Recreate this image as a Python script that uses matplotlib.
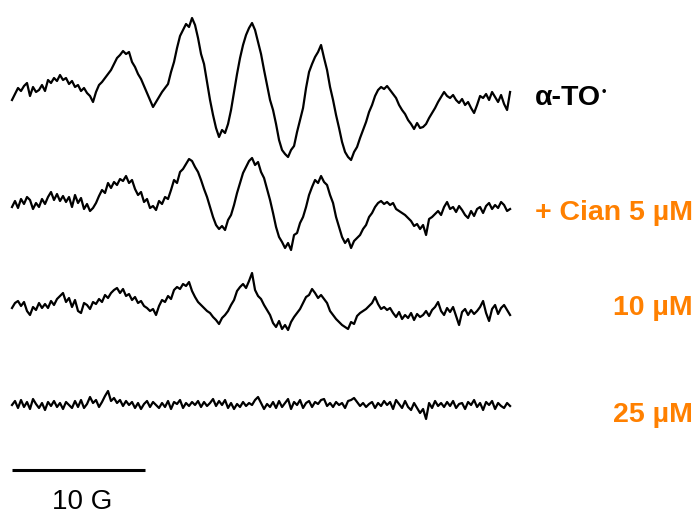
import numpy as np
import matplotlib
matplotlib.use("Agg")
import matplotlib.pyplot as plt

plt.rcParams['font.family'] = ['Liberation Sans', 'DejaVu Sans']

# EPR spectra of alpha-tocopheroxyl radical, field step between points (G)
field_step = 0.2256

# signal amplitudes (arb. units)
alpha_to = [0, 6, 12, 9, 14, 17, 4, 13, 8, 10, 15, 9, 20, 17, 22, 19, 25, 20, 22, 16,
            19, 13, 15, 9, 12, 7, 4, -2, 8, 15, 18, 22, 26, 30, 36, 42, 45, 49, 46, 48,
            38, 33, 26, 21, 14, 7, 0, -7, -2, 3, 8, 12, 16, 28, 38, 52, 64, 70, 76, 73,
            82, 75, 62, 46, 36, 18, 0, -15, -28, -37, -30, -33, -24, -10, 8, 26, 42, 55, 65, 72,
            77, 70, 58, 46, 30, 15, 0, -10, -24, -40, -50, -54, -57, -50, -46, -32, -20, -8, 12, 28,
            36, 43, 48, 55, 42, 30, 13, 0, -15, -28, -42, -52, -57, -60, -52, -47, -38, -30, -22, -12,
            -5, 4, 10, 13, 11, 14, 10, 6, 2, -5, -10, -14, -20, -24, -29, -23, -28, -27, -24, -18,
            -13, -8, -2, 3, 8, 4, 2, 5, 0, -3, 1, -5, -2, -8, -13, -5, 4, 2, 6, 0,
            8, 3, -2, 5, -4, -10, 8]

cian_5 = [-2, 4, -3, 6, 1, 8, 5, -4, 2, -2, 6, 1, 8, 13, 5, 11, 4, 9, 3, 8,
          -2, 10, 2, 7, -4, 1, -6, -3, 2, 9, 15, 12, 22, 17, 23, 20, 26, 24, 29, 22,
          25, 16, 10, 13, 3, 6, -3, -1, -5, 4, 1, 8, 6, 15, 25, 22, 33, 36, 41, 46,
          44, 38, 33, 25, 16, 8, -2, -12, -20, -24, -21, -25, -15, -10, 0, 12, 22, 32, 38, 44,
          47, 40, 43, 33, 27, 16, 5, -8, -22, -32, -37, -43, -38, -45, -30, -28, -18, -12, -2, 10,
          18, 25, 22, 29, 23, 20, 10, 2, -12, -22, -32, -38, -34, -43, -36, -33, -30, -24, -20, -12,
          -8, -2, 2, 4, 1, 3, 0, 2, -4, -6, -8, -10, -13, -16, -21, -19, -24, -20, -30, -14,
          -12, -9, -6, -10, -2, 3, -4, -2, -7, -1, -5, -10, -13, -6, -11, -4, -2, -8, -1, 2,
          -4, 0, -3, 3, 0, -6, -4]

cian_10 = [-3, 2, 4, -1, 3, -6, -10, -2, -5, 2, -3, 1, -3, 4, 0, 6, 9, 12, 3, 7,
           -2, 5, -6, -8, 2, 0, -4, 3, 1, 6, 3, 10, 7, 12, 15, 17, 12, 16, 9, 11,
           5, 8, 2, 4, -1, -3, -6, -4, -10, -1, 5, 3, 9, 6, 15, 18, 16, 21, 19, 23,
           14, 8, 3, 0, -3, -6, -8, -12, -15, -19, -13, -10, -6, 0, 5, 14, 18, 21, 17, 24,
           32, 15, 9, 6, 0, -5, -10, -18, -22, -16, -24, -20, -25, -17, -12, -8, -4, 2, 8, 10,
           16, 12, 7, 10, 6, 2, -6, -10, -14, -17, -20, -22, -24, -17, -19, -11, -8, -6, -4, -1,
           2, 8, 1, -4, -2, -5, -3, -8, -12, -7, -14, -10, -13, -8, -15, -9, -12, -10, -6, -11,
           -5, -2, 3, -6, -10, -3, -7, -2, -11, -20, -7, -4, -10, -5, -9, -6, -2, 4, -8, -16,
           -4, 0, -9, -3, 0, -5, -10]

cian_25 = [0, 4, -3, 5, -2, 3, -4, 6, 1, -3, 2, -5, 3, -1, 4, -2, 2, -4, 3, 0,
           -3, 4, -2, 5, -3, 1, 8, 2, 5, -2, 3, 9, 14, 4, 7, 2, 5, -1, 4, 0,
           3, -3, 2, -4, 1, 4, -2, 3, 0, -3, 2, -2, 4, -4, 3, 1, 5, -3, 2, -1,
           3, 0, 4, -2, 3, -1, 2, 6, -1, 4, 0, 5, -3, 2, -4, 1, -2, 3, -1, 2,
           0, 5, 8, 2, -4, 1, -2, 3, -3, 4, -2, 2, 6, -4, 3, 0, 5, -3, 2, 4,
           -2, 3, 1, 5, 6, -1, 2, -2, 3, 0, 2, -3, 4, 5, 7, 3, -1, 2, -2, 1,
           3, -3, 2, -1, 4, 0, 3, -4, 5, 1, -3, 4, -2, -5, 2, -3, -8, -4, -14, 2,
           -3, 4, -1, 2, -2, 3, -1, 4, -3, 1, 2, -4, 3, 0, 5, -2, 2, -5, 3, 0,
           4, -4, 2, -1, -3, 2, -1]

traces = [alpha_to, cian_5, cian_10, cian_25]
labels = ['α-TO', '+ Cian 5 µM', '10 µM', '25 µM']
label_colors = ['black', '#ff8000', '#ff8000', '#ff8000']

# layout (vertical stacking) in display units
offsets = [-100, -205, -305, -405]
label_y = [-98, -213, -308, -415]
px_per_g = 13.3

fig = plt.figure(figsize=(6.98, 5.16), dpi=100)
ax = fig.add_axes([0, 0, 1, 1])
ax.set_xlim(-12 / px_per_g, 686 / px_per_g)
ax.set_ylim(-516, 0)
ax.axis('off')

for sig, off in zip(traces, offsets):
    sig = np.array(sig, dtype=float)
    field = np.arange(len(sig)) * field_step
    ax.plot(field, sig + off, color='black', lw=1.6, solid_joinstyle='round')

# labels
ax.text(523 / px_per_g, label_y[0], labels[0], ha='left', va='center',
        fontsize=20.5, fontweight='bold', color=label_colors[0])
ax.text(590 / px_per_g, label_y[0] + 6, '•', ha='left', va='center',
        fontsize=9, fontweight='bold', color=label_colors[0])
for lab, y, c in zip(labels[1:], label_y[1:], label_colors[1:]):
    ax.text(681 / px_per_g, y, lab, ha='right', va='center',
            fontsize=20.5, fontweight='bold', color=c)

# 10 G scale bar
ax.plot([0, 10], [-470, -470], color='black', lw=2.2, solid_capstyle='butt')
ax.text(5.3, -502, '10 G', ha='center', va='center', fontsize=20)

fig.savefig('out.png', dpi=100)
